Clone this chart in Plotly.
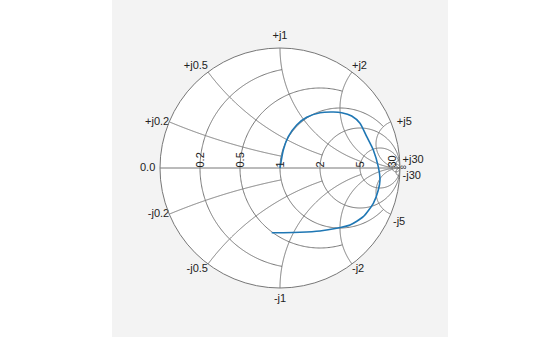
import numpy as np
import plotly.graph_objects as go

# Impedance trace (normalized resistance / reactance)
real = [1.0, 1.009, 0.992, 0.98, 0.986, 1.03, 1.111, 1.167, 1.301, 1.668, 2.83, 5.18, 10.0,
        7.82, 4.46, 2.27, 1.369, 1.087, 0.988, 0.852, 0.698, 0.573, 0.491]
imag = [0.0, 0.31, 0.558, 0.824, 1.079, 1.403, 1.773, 2.055, 2.478, 2.981, 3.6, 4.17, 0.66,
        -5.29, -5.53, -4.33, -3.14, -2.38, -1.893, -1.458, -1.092, -0.872, -0.752]

grid_vals = [0.2, 0.5, 1, 2, 5, 30]
imag_labels_pos = ["+j0.2", "+j0.5", "+j1", "+j2", "+j5", "+j30"]
imag_labels_neg = ["-j0.2", "-j0.5", "-j1", "-j2", "-j5", "-j30"]

GRID = "#777777"
TXT = "#222222"
BIG = 1e7
fig = go.Figure()


def gridline(re, im):
    fig.add_trace(go.Scattersmith(real=list(re), imag=list(im), mode="lines",
                                  line=dict(color=GRID, width=1), hoverinfo="skip",
                                  showlegend=False))


def end_of(i):
    return grid_vals[i + 2] if i + 2 < len(grid_vals) else BIG


# real axis
gridline([0, BIG], [0, 0])
# resistance circles (truncated)
for i, r in enumerate(grid_vals):
    X = end_of(i)
    t = np.linspace(-np.arctan(X / (1 + r)), np.arctan(X / (1 + r)), 240)
    gridline(np.full(t.size, r), (1 + r) * np.tan(t))
# reactance arcs (truncated)
for i, x in enumerate(grid_vals):
    R = end_of(i)
    s = np.linspace(np.arctan(x), np.arctan(x / (R + 1)), 240)
    rr = np.maximum(x / np.tan(s) - 1, 0)
    gridline(rr, np.full(s.size, x))
    gridline(rr, np.full(s.size, -x))

# data trace
fig.add_trace(go.Scattersmith(real=real, imag=imag, mode="lines",
                              line=dict(color="#1f77b4", width=1.6, shape="spline", smoothing=0.6),
                              showlegend=False))

# reactance labels on the outer circle
pos_tp = ["middle left", "top left", "top center", "top right", "middle right", "middle right"]
neg_tp = ["middle left", "bottom left", "bottom center", "bottom right", "bottom right", "middle right"]
pos_pad = [0, 0, 8, 0, 8, 3]
neg_pad = [0, 0, 8, 0, 2, 3]
fig.add_trace(go.Scattersmith(
    real=[0] * (2 * len(grid_vals)),
    imag=grid_vals + [-v for v in grid_vals],
    mode="markers+text", text=imag_labels_pos + imag_labels_neg,
    marker=dict(size=pos_pad + neg_pad, opacity=0),
    textposition=pos_tp + neg_tp, cliponaxis=False,
    textfont=dict(size=11, color=TXT), hoverinfo="skip", showlegend=False))
fig.add_trace(go.Scattersmith(real=[0], imag=[0], mode="markers+text", text=["0.0"],
                              marker=dict(size=6, opacity=0),
                              textposition="middle left", cliponaxis=False,
                              textfont=dict(size=11, color=TXT), hoverinfo="skip",
                              showlegend=False))
fig.add_trace(go.Scattersmith(real=[BIG], imag=[0], mode="text", text=["∞"],
                              textposition="middle right", cliponaxis=False,
                              textfont=dict(size=9, color=TXT), hoverinfo="skip",
                              showlegend=False))

fig.update_layout(
    margin=dict(l=112, r=112, t=48, b=49),
    paper_bgcolor="white",
    font=dict(family="Arial, Liberation Sans, sans-serif", size=11, color=TXT),
    smith=dict(
        bgcolor="white",
        realaxis=dict(tickvals=grid_vals, showgrid=False, showline=False, ticks="",
                      tickangle=-90, tickfont=dict(size=11, color=TXT)),
        imaginaryaxis=dict(tickvals=grid_vals, showgrid=False, showline=True,
                           linecolor=GRID, linewidth=1, ticks="", showticklabels=False),
    ),
    shapes=[dict(type="rect", xref="paper", yref="paper", x0=0, x1=1, y0=-1, y1=2,
                 fillcolor="#f3f3f3", line=dict(width=0), layer="below")],
)

fig.write_html("out.html")
